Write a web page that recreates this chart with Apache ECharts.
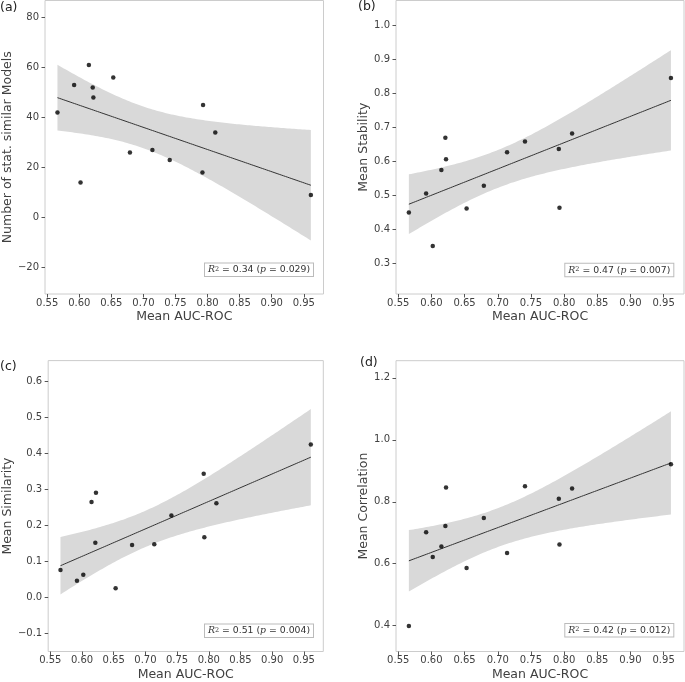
<!DOCTYPE html>
<html>
<head>
<meta charset="utf-8">
<script src="https://cdn.jsdelivr.net/npm/echarts@6/dist/echarts.min.js"></script>
<style>
html, body { margin: 0; padding: 0; background: #fff; }
#chart { width: 685px; height: 682px; }
</style>
</head>
<body>
<div id="chart"></div>
<script>
// Mean AUC-ROC per model (shared by all four panels)
const aucRoc = [0.566, 0.592, 0.602, 0.615, 0.621, 0.622, 0.653, 0.679, 0.714, 0.741, 0.792, 0.793, 0.812, 0.961]
const similarModels = [42, 53, 14, 61, 52, 48, 56, 26, 27, 23, 18, 45, 34, 9]
const stability = [0.449, 0.505, 0.351, 0.574, 0.669, 0.606, 0.461, 0.528, 0.626, 0.658, 0.636, 0.463, 0.681, 0.844]
const similarity = [0.076, 0.046, 0.063, 0.265, 0.152, 0.291, 0.025, 0.146, 0.148, 0.228, 0.344, 0.167, 0.262, 0.425]
const correlation = [0.399, 0.702, 0.622, 0.656, 0.722, 0.846, 0.586, 0.748, 0.635, 0.850, 0.810, 0.662, 0.843, 0.921]

const xTicks = [0.55, 0.60, 0.65, 0.70, 0.75, 0.80, 0.85, 0.90, 0.95]
const ticksA = [-20, 0, 20, 40, 60, 80]
const ticksB = [0.3, 0.4, 0.5, 0.6, 0.7, 0.8, 0.9, 1.0]
const ticksC = [-0.1, 0.0, 0.1, 0.2, 0.3, 0.4, 0.5, 0.6]
const ticksD = [0.4, 0.6, 0.8, 1.0, 1.2]

const r2Labels = ['0.34', '0.47', '0.51', '0.42']
const pLabels = ['0.029', '0.007', '0.004', '0.012']

const FONT = 'DejaVu Sans'
const TEXT = '#404040'

const panels = [
  { tag: '(a)', ys: similarModels, ticks: ticksA, dec: 0, min: -30.6, max: 86.8, name: 'Number of stat. similar Models',
    grid: { left: 41, top: 0.5, width: 282.5, height: 293.5 }, nameGap: 29, tagPos: [0, 1], box: [204, 262.5] },
  { tag: '(b)', ys: stability, ticks: ticksB, dec: 1, min: 0.2098, max: 1.072, name: 'Mean Stability',
    grid: { left: 396, top: 0.5, width: 288, height: 293.5 }, nameGap: 22, tagPos: [358, 0.5], box: [564.3, 262.7] },
  { tag: '(c)', ys: similarity, ticks: ticksC, dec: 1, min: -0.1506, max: 0.6586, name: 'Mean Similarity',
    grid: { left: 42.7, top: 360.6, width: 280.6, height: 292.7 }, nameGap: 31, tagPos: [0, 360], box: [204, 623.5] },
  { tag: '(d)', ys: correlation, ticks: ticksD, dec: 1, min: 0.3166, max: 1.2555, name: 'Mean Correlation',
    grid: { left: 396, top: 360.7, width: 288, height: 292.6 }, nameGap: 22, tagPos: [360, 356], box: [564.3, 623] }
]

// ordinary least squares fit with 95% confidence band (t for 12 dof)
const fitBand = (xs, ys, steps) => {
  const n = xs.length
  const mx = xs.reduce((s, v) => s + v, 0) / n
  const my = ys.reduce((s, v) => s + v, 0) / n
  let sxx = 0, sxy = 0
  xs.forEach((x, i) => { sxx += (x - mx) ** 2; sxy += (x - mx) * (ys[i] - my) })
  const b = sxy / sxx
  const a = my - b * mx
  let sse = 0
  xs.forEach((x, i) => { sse += (ys[i] - a - b * x) ** 2 })
  const s = Math.sqrt(sse / (n - 2))
  const t = 2.1788
  const lo = Math.min(...xs), hi = Math.max(...xs)
  const line = [], upper = [], lower = []
  for (let k = 0; k <= steps; k++) {
    const x = lo + (hi - lo) * k / steps
    const yh = a + b * x
    const se = s * Math.sqrt(1 / n + (x - mx) ** 2 / sxx)
    line.push([x, yh])
    upper.push([x, yh + t * se])
    lower.push([x, yh - t * se])
  }
  return { line, upper, lower }
}

const minus = (str) => str.replace('-', '\u2212')

const grids = [], xAxes = [], yAxes = [], series = [], graphics = []

panels.forEach((p, i) => {
  grids.push({ ...p.grid, show: true, borderColor: '#cccccc', borderWidth: 1, backgroundColor: '#fff' })

  xAxes.push({
    gridIndex: i, type: 'value', min: 0.5466, max: 0.9807, position: 'bottom',
    axisLine: { show: false, onZero: false }, splitLine: { show: false },
    axisTick: { show: true, length: 3.5, customValues: xTicks, lineStyle: { color: '#555', width: 1 } },
    axisLabel: { customValues: xTicks, formatter: (v) => v.toFixed(2), fontSize: 10, color: TEXT, fontFamily: FONT, margin: 4 },
    name: 'Mean AUC-ROC', nameLocation: 'middle', nameGap: 16.5,
    nameTextStyle: { fontSize: 12.5, color: TEXT, fontFamily: FONT }
  })

  yAxes.push({
    gridIndex: i, type: 'value', min: p.min, max: p.max, position: 'left',
    axisLine: { show: false, onZero: false }, splitLine: { show: false },
    axisTick: { show: true, length: 3.5, customValues: p.ticks, lineStyle: { color: '#555', width: 1 } },
    axisLabel: { customValues: p.ticks, formatter: (v) => minus(v.toFixed(p.dec)), fontSize: 10, color: TEXT, fontFamily: FONT, margin: 6 },
    name: p.name, nameLocation: 'middle', nameGap: p.nameGap,
    nameTextStyle: { fontSize: 12.5, color: TEXT, fontFamily: FONT }
  })

  const fit = fitBand(aucRoc, p.ys, 120)

  series.push({
    type: 'custom', xAxisIndex: i, yAxisIndex: i, silent: true, z: 1,
    data: [[fit.line[0][0], fit.line[0][1]]],
    renderItem: (params, api) => {
      const pts = fit.upper.map((d) => api.coord(d))
        .concat(fit.lower.slice().reverse().map((d) => api.coord(d)))
      return { type: 'polygon', shape: { points: pts }, style: { fill: '#d9d9d9' } }
    }
  })

  series.push({
    type: 'line', xAxisIndex: i, yAxisIndex: i, silent: true, z: 2,
    data: fit.line, symbol: 'none',
    lineStyle: { color: '#333', width: 1 }
  })

  series.push({
    type: 'scatter', xAxisIndex: i, yAxisIndex: i, z: 3,
    data: aucRoc.map((x, k) => [x, p.ys[k]]),
    symbolSize: 4.5, itemStyle: { color: '#000' }
  })

  graphics.push({
    type: 'text', left: p.tagPos[0], top: p.tagPos[1],
    style: { text: p.tag, fontSize: 12.5, fontFamily: FONT, fill: '#222' }
  })

  graphics.push({
    type: 'text', left: p.box[0], top: p.box[1], z: 10,
    style: {
      text: '{i|R}{s|2} = ' + r2Labels[i] + ' ({i|p} = ' + pLabels[i] + ')',
      fontSize: 9.3, fontFamily: FONT, fill: '#333',
      rich: {
        i: { fontFamily: 'DejaVu Serif', fontStyle: 'italic', fontSize: 9.3, fill: '#333' },
        s: { fontFamily: 'DejaVu Serif', fontSize: 6.5, verticalAlign: 'top', fill: '#333' }
      },
      backgroundColor: '#fff', borderColor: '#bbbbbb', borderWidth: 1, padding: [2, 3, 1.5, 3]
    }
  })
})

const chart = echarts.init(document.getElementById('chart'))
chart.setOption({
  animation: false,
  backgroundColor: '#fff',
  grid: grids,
  xAxis: xAxes,
  yAxis: yAxes,
  series,
  graphic: graphics
})
</script>
</body>
</html>
